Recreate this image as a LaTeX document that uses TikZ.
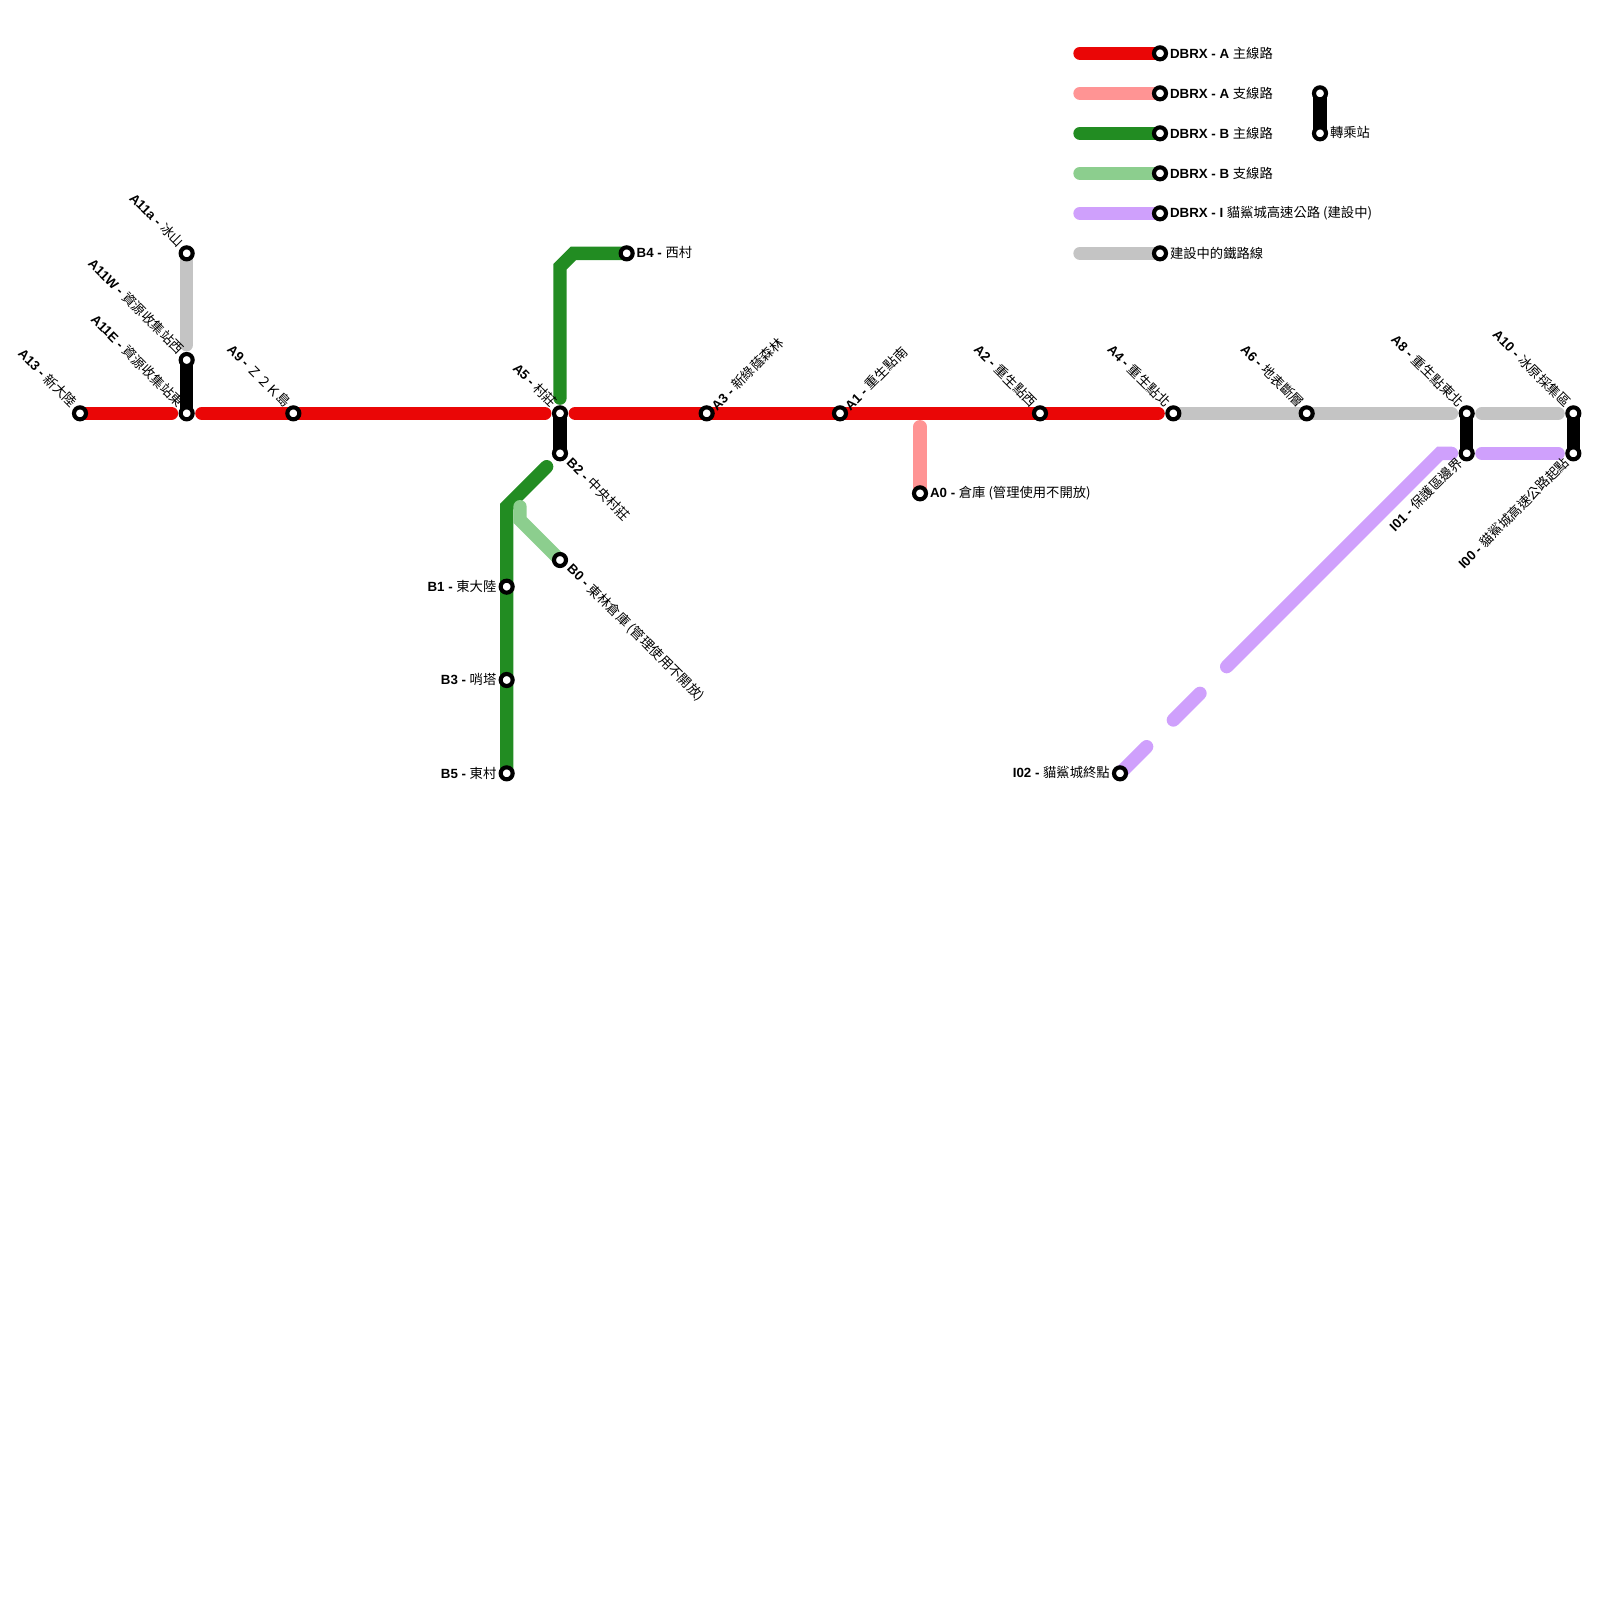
\documentclass[tikz,border=0pt]{standalone}
\usepackage{fontspec}
\usetikzlibrary{backgrounds}
\setmainfont{Liberation Sans}
\newfontfamily\cjk{Noto Sans CJK TC}
\definecolor{redline}{HTML}{EA0606}
\definecolor{pinkline}{HTML}{FF9494}
\definecolor{greenline}{HTML}{228C22}
\definecolor{mintline}{HTML}{8CCE8E}
\definecolor{purpleline}{HTML}{CFA0FC}
\definecolor{greyline}{HTML}{C4C4C4}
\newcommand{\stn}[2]{\textbf{#1 -} {\cjk #2}}
\begin{document}
\begin{tikzpicture}[x=0.5cm, y=-0.5cm, font=\fontsize{14.2}{17}\selectfont,
	track/.style = {line width=0.5cm, line cap=round, line join=miter},
	gapend/.style = {shorten >=0.57cm},
	gapstart/.style = {shorten <=0.57cm},
	main/.style = {circle, draw=black, fill=white, line width=0.155cm, inner sep=0pt, minimum size=0.45cm},
	letter/.style = {inner sep=0pt, text=black},
	upleft/.style = {letter, rotate=-45, anchor=east, xshift=-0.36cm, yshift=0.09cm},
	upright/.style = {letter, rotate=45, anchor=west, xshift=0.33cm, yshift=-0.03cm},
	downleft/.style = {letter, rotate=45, anchor=east, xshift=-0.35cm, yshift=0cm},
	downright/.style = {letter, rotate=-45, anchor=west, xshift=0.42cm, yshift=0.08cm},
	toright/.style = {letter, anchor=west, xshift=0.37cm, yshift=0.015cm},
	toleft/.style = {letter, anchor=east, xshift=-0.38cm, yshift=0.015cm}]

	\useasboundingbox (0,0) rectangle (120,120);

	\node[main] (a13) at (6,31) {};
	\node[main] (a11e) at (14,31) {};
	\node[main] (a11w) at (14,27) {};
	\node[main] (a11a) at (14,19) {};
	\node[main] (a9) at (22,31) {};
	\node[main] (a5) at (42,31) {};
	\node[main] (b2) at (42,34) {};
	\node[main] (b4) at (47,19) {};
	\node[main] (a3) at (53,31) {};
	\node[main] (a1) at (63,31) {};
	\node[main] (a0) at (69,37) {};
	\node[main] (a2) at (78,31) {};
	\node[main] (a4) at (88,31) {};
	\node[main] (a6) at (98,31) {};
	\node[main] (a8) at (110,31) {};
	\node[main] (a10) at (118,31) {};
	\node[main] (i01) at (110,34) {};
	\node[main] (i00) at (118,34) {};
	\node[main] (i02) at (84,58) {};
	\node[main] (b0) at (42,42) {};
	\node[main] (b1) at (38,44) {};
	\node[main] (b3) at (38,51) {};
	\node[main] (b5) at (38,58) {};

	\node[upleft] (a13name) at (a13) {\stn{A13}{新大陸}};
	\node[upleft] (a11ename) at (a11e) {\stn{A11E}{資源收集站東}};
	\node[upleft] (a11wname) at (a11w) {\stn{A11W}{資源收集站西}};
	\node[upleft] (a11aname) at (a11a) {\stn{A11a}{冰山}};
	\node[upleft] (a9name) at (a9) {\stn{A9}{^^^^ff3a^^^^ff12^^^^ff2b島}};
	\node[upleft] (a5name) at (a5) {\stn{A5}{村莊}};
	\node[upright] (a3name) at (a3) {\stn{A3}{新綠蔭森林}};
	\node[upright] (a1name) at (a1) {\stn{A1}{重生點南}};
	\node[upleft] (a2name) at (a2) {\stn{A2}{重生點西}};
	\node[upleft] (a4name) at (a4) {\stn{A4}{重生點北}};
	\node[upleft] (a6name) at (a6) {\stn{A6}{地表斷層}};
	\node[upleft] (a8name) at (a8) {\stn{A8}{重生點東北}};
	\node[upleft] (a10name) at (a10) {\stn{A10}{冰原採集區}};
	\node[downleft] (i01name) at (i01) {\stn{I01}{保護區邊界}};
	\node[downleft] (i00name) at (i00) {\stn{I00}{貓鯊城高速公路起點}};
	\node[downright] (b2name) at (b2) {\stn{B2}{中央村莊}};
	\node[downright] (b0name) at (b0) {\stn{B0}{東林倉庫 (管理使用不開放)}};
	\node[toright] (b4name) at (b4) {\stn{B4}{西村}};
	\node[toright] (a0name) at (a0) {\stn{A0}{倉庫 (管理使用不開放)}};
	\node[toleft] (b1name) at (b1) {\stn{B1}{東大陸}};
	\node[toleft] (b3name) at (b3) {\stn{B3}{哨塔}};
	\node[toleft] (b5name) at (b5) {\stn{B5}{東村}};
	\node[toleft] (i02name) at (i02) {\stn{I02}{貓鯊城終點}};

	% legend
	\node[main] (key1) at (87,4) {};
	\node[main] (key2) at (87,7) {};
	\node[main] (key3) at (87,10) {};
	\node[main] (key4) at (87,13) {};
	\node[main] (key5) at (87,16) {};
	\node[main] (key6) at (87,19) {};
	\node[main] (swap1) at (99,7) {};
	\node[main] (swap2) at (99,10) {};
	\coordinate (start1) at (81,4);
	\coordinate (start2) at (81,7);
	\coordinate (start3) at (81,10);
	\coordinate (start4) at (81,13);
	\coordinate (start5) at (81,16);
	\coordinate (start6) at (81,19);

	\node[toright] (key1name) at (key1) {\textbf{DBRX - A} {\cjk 主線路}};
	\node[toright] (key2name) at (key2) {\textbf{DBRX - A} {\cjk 支線路}};
	\node[toright] (key3name) at (key3) {\textbf{DBRX - B} {\cjk 主線路}};
	\node[toright] (key4name) at (key4) {\textbf{DBRX - B} {\cjk 支線路}};
	\node[toright] (key5name) at (key5) {\textbf{DBRX - I} {\cjk 貓鯊城高速公路 (建設中)}};
	\node[toright] (key6name) at (key6) {{\cjk 建設中的鐵路線}};
	\node[toright] (swapname) at (swap2) {{\cjk 轉乘站}};

	% free ends of the lines
	\coordinate (b2end) at (41,35);
	\coordinate (b0end) at (39,38);
	\coordinate (a0end) at (69,32);
	\coordinate (dash1) at (86,56);
	\coordinate (dash2) at (88,54);
	\coordinate (dash3) at (90,52);
	\coordinate (dash4) at (92,50);

	\begin{pgfonlayer}{background}
		\draw[track, redline, gapend] (a13.center) -- (a11e.center);
		\draw[track, redline, gapstart, gapend] (a11e.center) -- (a5.center);
		\draw[track, redline, gapstart, gapend] (a5.center) -- (a4.center);
		\draw[track, pinkline] (a0end) -- (a0.center);
		\draw[track, greyline, gapend] (a11a.center) -- (a11w.center);
		\draw[track, greyline, gapend] (a4.center) -- (a8.center);
		\draw[track, greyline, gapstart, gapend] (a8.center) -- (a10.center);
		\draw[track, greenline, gapstart] (a5.center) -- (42,20) -- (43,19) -- (b4.center);
		\draw[track, greenline] (b2end) -- (38,38) -- (b5.center);
		\draw[track, mintline] (b0end) -- (39,39) -- (b0.center);
		\draw[track, purpleline] (i02.center) -- (dash1);
		\draw[track, purpleline] (dash2) -- (dash3);
		\draw[track, purpleline, gapend] (dash4) -- (108,34) -- (i01.center);
		\draw[track, purpleline, gapstart, gapend] (i01.center) -- (i00.center);
		\draw[track, black] (a11w.center) -- (a11e.center);
		\draw[track, black] (a5.center) -- (b2.center);
		\draw[track, black] (a8.center) -- (i01.center);
		\draw[track, black] (a10.center) -- (i00.center);
		\draw[track, redline] (start1) -- (key1.center);
		\draw[track, pinkline] (start2) -- (key2.center);
		\draw[track, greenline] (start3) -- (key3.center);
		\draw[track, mintline] (start4) -- (key4.center);
		\draw[track, purpleline] (start5) -- (key5.center);
		\draw[track, greyline] (start6) -- (key6.center);
		\draw[track, black] (swap1.center) -- (swap2.center);
	\end{pgfonlayer}
\end{tikzpicture}
\end{document}
